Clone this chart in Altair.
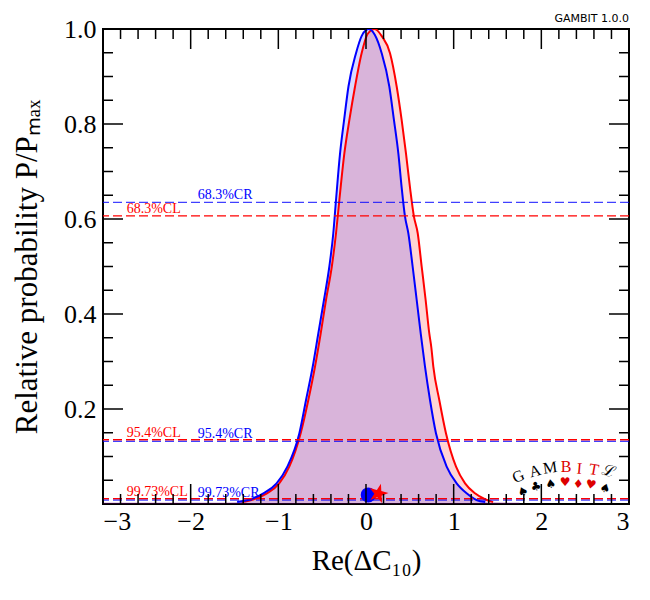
import altair as alt
import pandas as pd

# ---- data ----
# Marginalised posterior (blue)
post_x = [-3.0, -1.6, -1.47, -1.32, -1.17, -1.02, -0.897, -0.76, -0.684, -0.608, -0.544,
          -0.479, -0.418, -0.373, -0.342, -0.296, -0.25, -0.20, -0.114, -0.05, 0.03,
          0.10, 0.179, 0.266, 0.319, 0.369, 0.407, 0.445, 0.483, 0.532, 0.578, 0.624,
          0.673, 0.73, 0.798, 0.92, 1.034, 1.148, 1.26, 1.36, 1.75]
post_y = [0.003, 0.003, 0.004, 0.01, 0.0225, 0.0435, 0.0786, 0.149, 0.219, 0.289, 0.359,
          0.43, 0.50, 0.57, 0.64, 0.738, 0.808, 0.879, 0.949, 0.985, 1.0,
          0.988, 0.949, 0.879, 0.808, 0.738, 0.666, 0.605, 0.57, 0.50, 0.43, 0.359,
          0.289, 0.219, 0.149, 0.0786, 0.0435, 0.0225, 0.0084, 0.004, 0.003]

# Profile likelihood (red)
prof_x = [-3.0, -1.6, -1.42, -1.28, -1.13, -0.99, -0.875, -0.745, -0.658, -0.582, -0.517,
          -0.456, -0.39, -0.342, -0.304, -0.247, -0.19, -0.125, -0.05, 0.02, 0.10,
          0.18, 0.274, 0.35, 0.407, 0.456, 0.502, 0.547, 0.59, 0.635, 0.68, 0.722,
          0.745, 0.768, 0.836, 0.912, 1.027, 1.13, 1.243, 1.357, 1.45, 1.75]
prof_y = [0.003, 0.003, 0.004, 0.01, 0.0225, 0.0435, 0.0786, 0.149, 0.219, 0.289, 0.359,
          0.43, 0.50, 0.57, 0.64, 0.738, 0.808, 0.879, 0.949, 0.99, 1.0,
          0.985, 0.949, 0.879, 0.808, 0.738, 0.666, 0.605, 0.57, 0.50, 0.43, 0.359,
          0.33, 0.289, 0.219, 0.149, 0.0786, 0.0435, 0.0225, 0.01, 0.004, 0.003]

cl_levels = [0.6065, 0.1353, 0.0111]
cl_labels = ["68.3%CL", "95.4%CL", "99.73%CL"]
cr_levels = [0.635, 0.132, 0.008]
cr_labels = ["68.3%CR", "95.4%CR", "99.73%CR"]
cl_label_x = [-2.73, -2.73, -2.73]
cr_label_x = [-1.92, -1.92, -1.92]

best_fit_x = [0.14]
best_fit_y = [0.022]
post_mean_x = [0.026]
post_mean_y = [0.019]

x_ticks = [-3, -2, -1, 0, 1, 2, 3]
x_minor = [-2.8, -2.6, -2.4, -2.2, -1.8, -1.6, -1.4, -1.2, -0.8, -0.6, -0.4, -0.2,
           0.2, 0.4, 0.6, 0.8, 1.2, 1.4, 1.6, 1.8, 2.2, 2.4, 2.6, 2.8]
y_ticks = [0.2, 0.4, 0.6, 0.8, 1.0]
y_minor = [0.05, 0.1, 0.15, 0.25, 0.3, 0.35, 0.45, 0.5, 0.55, 0.65, 0.7, 0.75,
           0.85, 0.9, 0.95]

# GAMBIT card-fan logo (letters and suits)
logo_letters = ["G", "A", "M", "B", "I", "T", "ℒ"]
logo_letter_x = [1.737, 1.928, 2.099, 2.281, 2.433, 2.60, 2.764]
logo_letter_y = [0.058, 0.069, 0.076, 0.078, 0.074, 0.072, 0.069]
logo_suits = ["♠", "♣", "♠", "♥", "♦", "♥", "♠"]
logo_suit_x = [1.79, 1.939, 2.107, 2.27, 2.42, 2.566, 2.726]
logo_suit_y = [0.026, 0.037, 0.042, 0.046, 0.042, 0.041, 0.033]

# ---- build ----
W, H = 526, 475
SERIF = "Liberation Serif"
RED = "#ff0000"
BLUE = "#0000ff"
STAR = ("M0,-1L0.2245,-0.309L0.951,-0.309L0.363,0.118L0.588,0.809L0,0.382"
        "L-0.588,0.809L-0.363,0.118L-0.951,-0.309L-0.2245,-0.309Z")

xs = alt.Scale(domain=[-3, 3], nice=False, zero=False)
ys = alt.Scale(domain=[0, 1], nice=False)

post = pd.DataFrame({"x": post_x, "y": post_y})
prof = pd.DataFrame({"x": prof_x, "y": prof_y})

X = alt.X("x:Q", scale=xs, axis=alt.Axis(values=x_ticks, format="d", title="Re(ΔC₁₀)",
                                         labelFont=SERIF, titleFont=SERIF,
                                         labelFontSize=26, titleFontSize=29,
                                         labelPadding=4, titlePadding=12))
Y = alt.Y("y:Q", scale=ys, axis=alt.Axis(values=y_ticks, format=".1f",
                                         title="Relative probability P/Pₘₐₓ",
                                         labelFont=SERIF, titleFont=SERIF,
                                         labelFontSize=26, titleFontSize=31,
                                         labelPadding=7, titlePadding=20))

prof_area = alt.Chart(prof).mark_area(color=RED, opacity=0.17, interpolate="monotone", clip=True).encode(x=X, y=Y)
post_area = alt.Chart(post).mark_area(color=BLUE, opacity=0.15, interpolate="monotone", clip=True).encode(x=X, y=Y)
prof_line = alt.Chart(prof).transform_filter("datum.y > 0.0035").mark_line(
    color=RED, strokeWidth=2, interpolate="monotone", clip=True).encode(x=X, y=Y)
post_line = alt.Chart(post).transform_filter("datum.y > 0.0035").mark_line(
    color=BLUE, strokeWidth=2, interpolate="monotone", clip=True).encode(x=X, y=Y)

cl = pd.DataFrame({"y": cl_levels, "t": cl_labels, "x": cl_label_x})
cr = pd.DataFrame({"y": cr_levels, "t": cr_labels, "x": cr_label_x})

cl_rules = alt.Chart(cl).mark_rule(color=RED, strokeWidth=1.3, strokeDash=[9, 4]).encode(y=Y)
cr_rules = alt.Chart(cr).mark_rule(color=BLUE, strokeWidth=1.3, strokeDash=[9, 4], opacity=0.75).encode(y=Y)
cl_text = alt.Chart(cl).mark_text(color=RED, font=SERIF, fontSize=14, align="left",
                                  baseline="alphabetic", dy=-3).encode(x=X, y=Y, text="t:N")
cr_text = alt.Chart(cr).mark_text(color=BLUE, font=SERIF, fontSize=14, align="left",
                                  baseline="alphabetic", dy=-3).encode(x=X, y=Y, text="t:N")

pm = alt.Chart(pd.DataFrame({"x": post_mean_x, "y": post_mean_y})).mark_point(
    shape="circle", filled=True, color=BLUE, size=230, opacity=1).encode(x=X, y=Y)
bf = alt.Chart(pd.DataFrame({"x": best_fit_x, "y": best_fit_y})).mark_point(
    shape=STAR, filled=True, color=RED, size=420, opacity=1, angle=15).encode(x=X, y=Y)

# logo glyphs: each fanned card tilted a little
card_angles = [335, 345, 352, 0, 5, 10, 18]
card_colors = ["#000000", "#000000", "#000000", "#dd0000", "#dd0000", "#dd0000", "#000000"]
logo_layers = []
for i in range(len(logo_letters)):
    d = pd.DataFrame({"x": [logo_letter_x[i]], "y": [logo_letter_y[i]], "t": [logo_letters[i]]})
    logo_layers.append(alt.Chart(d).mark_text(
        color=card_colors[i], font=SERIF, fontSize=16, angle=card_angles[i]).encode(x=X, y=Y, text="t:N"))
    s = pd.DataFrame({"x": [logo_suit_x[i]], "y": [logo_suit_y[i]], "t": [logo_suits[i]]})
    logo_layers.append(alt.Chart(s).mark_text(
        color=card_colors[i], font="DejaVu Sans", fontSize=12, angle=card_angles[i]).encode(x=X, y=Y, text="t:N"))

# inward ticks on all four sides
MAJ, MIN = 20, 10
def xticks(vals, L):
    d = pd.DataFrame({"x": vals})
    top = alt.Chart(d).mark_rule(color="black", strokeWidth=1.5).encode(
        x=X, y=alt.value(0), y2=alt.value(L))
    bot = alt.Chart(d).mark_rule(color="black", strokeWidth=1.5).encode(
        x=X, y=alt.value(H), y2=alt.value(H - L))
    return [top, bot]

def yticks(vals, L):
    d = pd.DataFrame({"y": vals})
    left = alt.Chart(d).mark_rule(color="black", strokeWidth=1.5).encode(
        y=Y, x=alt.value(0), x2=alt.value(L))
    right = alt.Chart(d).mark_rule(color="black", strokeWidth=1.5).encode(
        y=Y, x=alt.value(W), x2=alt.value(W - L))
    return [left, right]

tick_layers = xticks(x_ticks, MAJ) + xticks(x_minor, MIN) + yticks(y_ticks, MAJ) + yticks(y_minor, MIN)

chart = alt.layer(
    prof_area, post_area, prof_line, post_line,
    cl_rules, cr_rules, cl_text, cr_text,
    *logo_layers, pm, bf, *tick_layers
).properties(
    width=W, height=H,
    background="white",
    title=alt.TitleParams("GAMBIT 1.0.0", anchor="end", fontSize=11, font="DejaVu Sans",
                          fontWeight="normal", offset=-8, color="#000000", frame="group"),
    autosize=alt.AutoSizeParams(type="none"),
    padding={"left": 103, "top": 29, "right": 21, "bottom": 96},
).configure_view(
    stroke="black", strokeWidth=2
).configure_axis(
    ticks=False, domain=False, grid=False, labelFont=SERIF, titleFont=SERIF,
    labelColor="black", titleColor="black", titleFontWeight="normal"
)

chart.save("out.html", embed_options={"renderer": "svg", "actions": False})
